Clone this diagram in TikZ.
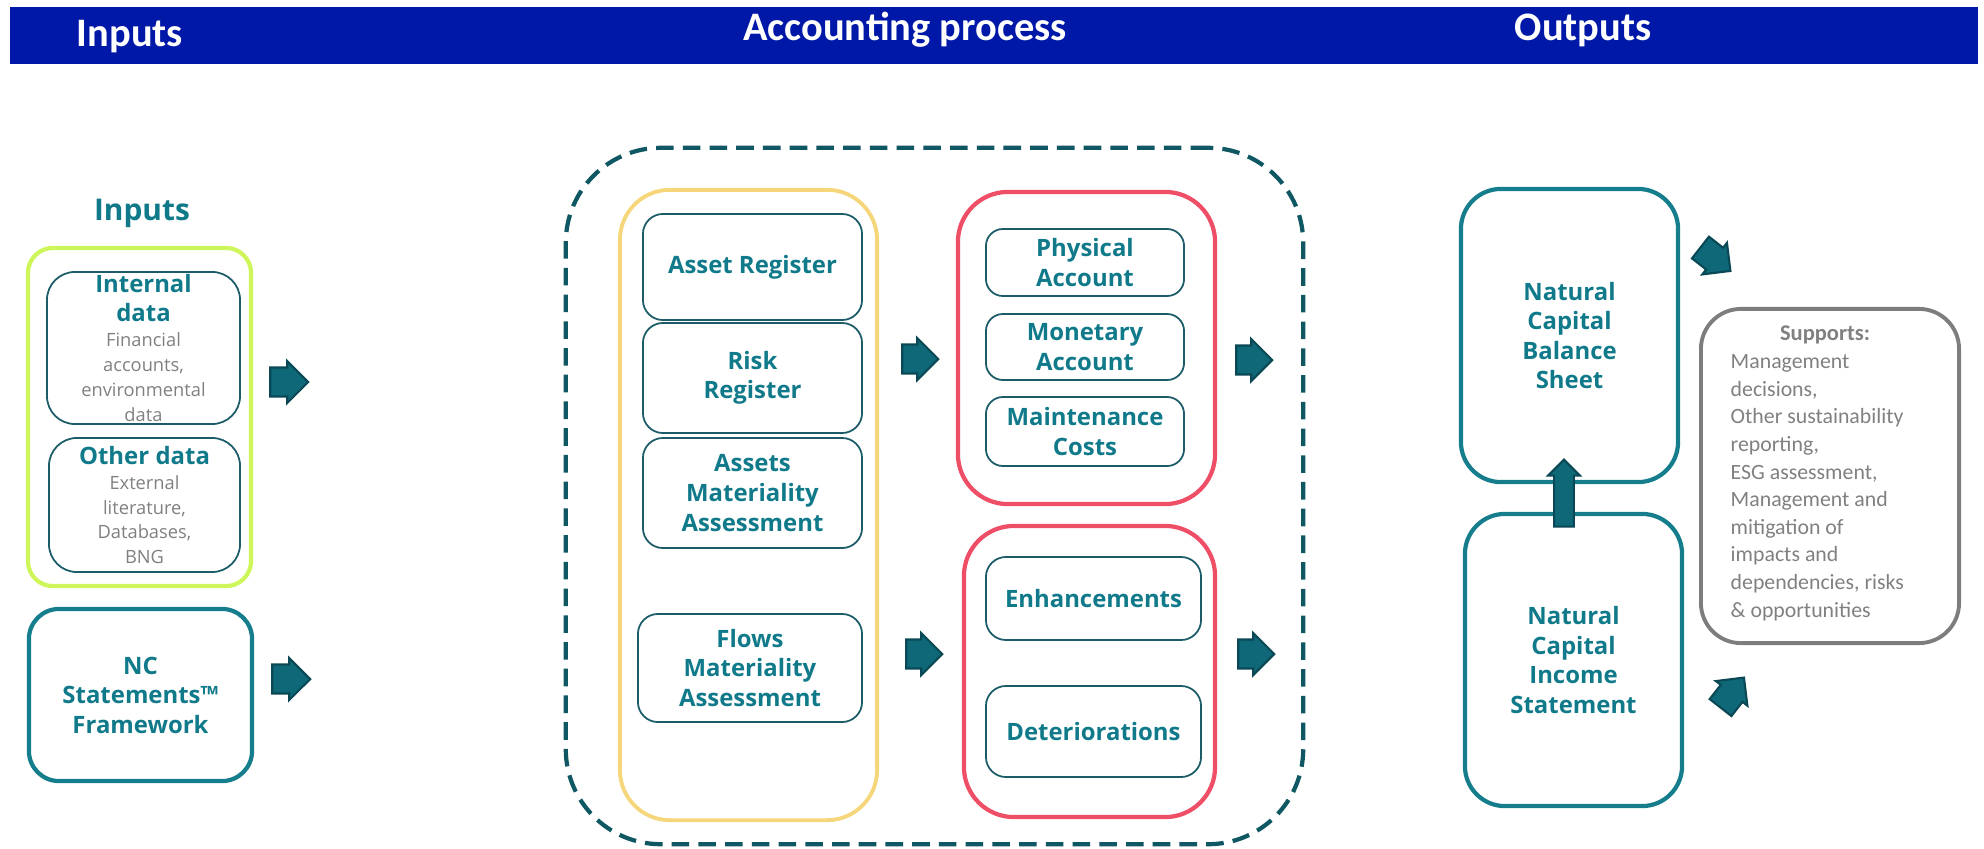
\documentclass[tikz,border=0pt]{standalone}
\usepackage{fontspec}
\setmainfont{Open Sans}
\newfontfamily\calfont{Carlito}
\usetikzlibrary{shapes.arrows}
\definecolor{hdr}{RGB}{0,24,168}
\definecolor{tealtxt}{RGB}{16,122,138}
\definecolor{thinline}{RGB}{28,92,104}
\definecolor{tealline}{RGB}{22,125,141}
\definecolor{limeg}{RGB}{206,246,90}
\definecolor{yell}{RGB}{245,214,122}
\definecolor{redl}{RGB}{238,78,102}
\definecolor{grayl}{RGB}{125,125,125}
\definecolor{graytxt}{RGB}{128,128,128}
\definecolor{arrfill}{RGB}{14,104,120}
\definecolor{arrdraw}{RGB}{9,72,84}
\definecolor{dashc}{RGB}{15,88,99}
\tikzset{
  hdrtxt/.style={font=\calfont\bfseries\fontsize{11.5}{13}\selectfont, text=white, anchor=base},
  tb/.style={font=\bfseries\fontsize{6.8}{8.4}\selectfont, text=tealtxt, align=center},
  frm/.style={rounded corners=#1, inner sep=0pt},
  thinbox/.style={frm=#1, draw=thinline, line width=0.5pt},
  thickbox/.style={frm=#1, draw=tealline, line width=1.2pt},
  blockarr/.style={single arrow, draw=arrdraw, fill=arrfill, line width=0.6pt,
    inner xsep=0pt, inner ysep=0.1cm, minimum height=0.38cm, minimum width=0.42cm,
    single arrow head extend=0.05cm, single arrow tip angle=90},
}
\begin{document}
\begin{tikzpicture}[x=0.01cm, y=-0.01cm]
\useasboundingbox (0,0) rectangle (1984,848);
% header
\fill[hdr] (10,7) rectangle (1978,64);
\node[hdrtxt] (hIn) at (130,46) {Inputs};
\node[hdrtxt] (hAcc) at (905,40) {Accounting process};
\node[hdrtxt] (hOut) at (1583,40) {Outputs};

% inputs
\node[font=\bfseries\fontsize{8.5}{10}\selectfont, text=tealtxt] (inTitle) at (142,213) {Inputs};
\node[frm=0.25cm, draw=limeg, line width=1.2pt, minimum width=2.23cm, minimum height=3.38cm] (green) at (139.5,417) {};
\node[thinbox=0.28cm, minimum width=1.93cm, minimum height=1.52cm, text width=1.93cm, align=center] (internal) at (143.5,348)
  {{\bfseries\fontsize{6.8}{8.4}\selectfont\color{tealtxt}Internal\\data\par}%
   {\fontsize{5.2}{7.1}\selectfont\color{graytxt}Financial\\accounts,\\environmental\\data\par}};
\node[thinbox=0.28cm, minimum width=1.91cm, minimum height=1.34cm, text width=1.91cm, align=center] (other) at (144.5,505)
  {{\bfseries\fontsize{6.8}{8.4}\selectfont\color{tealtxt}Other\kern0.27em data\par}%
   {\fontsize{5.2}{7.1}\selectfont\color{graytxt}External\\literature,\\Databases,\\BNG\par}};
\node[thickbox=0.30cm, minimum width=2.23cm, minimum height=1.72cm, tb] (nc) at (140.5,695) {NC\\Statements™\\Framework};
\node[blockarr] (a1) at (282,382) {};
\node[blockarr] (a2) at (284,679) {};

% accounting process
\node[frm=0.95cm, draw=dashc, line width=1.2pt, dash pattern=on 5pt off 2.6pt, minimum width=7.37cm, minimum height=6.96cm] (dash) at (934.5,496) {};
\node[frm=0.5cm, draw=yell, line width=1.1pt, minimum width=2.57cm, minimum height=6.30cm] (yellow) at (748.5,505) {};
\node[thinbox=0.2cm, minimum width=2.19cm, minimum height=1.06cm, tb] (asset) at (752.5,267) {Asset Register};
\node[thinbox=0.2cm, minimum width=2.19cm, minimum height=1.10cm, tb] (risk) at (752.5,378) {Risk\\Register};
\node[thinbox=0.2cm, minimum width=2.19cm, minimum height=1.10cm, tb] (amat) at (752.5,493) {Assets\\Materiality\\Assessment};
\node[thinbox=0.2cm, minimum width=2.24cm, minimum height=1.08cm, tb] (fmat) at (750,668) {Flows\\Materiality\\Assessment};
\node[frm=0.5cm, draw=redl, line width=1.2pt, minimum width=2.57cm, minimum height=3.12cm] (redtop) at (1086.5,348) {};
\node[thinbox=0.17cm, minimum width=1.98cm, minimum height=0.67cm, tb] (phys) at (1085,262.5) {Physical\\Account};
\node[thinbox=0.17cm, minimum width=1.98cm, minimum height=0.66cm, tb] (mon) at (1085,347) {Monetary\\Account};
\node[thinbox=0.17cm, minimum width=1.98cm, minimum height=0.69cm, tb] (maint) at (1085,431.5) {Maintenance\\Costs};
\node[frm=0.5cm, draw=redl, line width=1.2pt, minimum width=2.51cm, minimum height=2.91cm] (redbot) at (1089.5,671.5) {};
\node[thinbox=0.2cm, minimum width=2.15cm, minimum height=0.83cm, tb] (enh) at (1093.5,598.5) {Enhancements};
\node[thinbox=0.2cm, minimum width=2.15cm, minimum height=0.91cm, tb] (det) at (1093.5,731.5) {Deteriorations};
\node[blockarr, minimum width=0.42cm, minimum height=0.36cm] (m1) at (913,359) {};
\node[blockarr, minimum width=0.42cm, minimum height=0.36cm] (m2) at (917,654) {};
\node[blockarr, minimum width=0.42cm, minimum height=0.36cm] (r1) at (1247,360) {};
\node[blockarr, minimum width=0.42cm, minimum height=0.36cm] (r2) at (1249,654) {};

% outputs
\node[thickbox=0.4cm, minimum width=2.17cm, minimum height=2.93cm, tb] (bal) at (1569.5,335.5) {Natural\\Capital\\Balance\\Sheet};
\node[thickbox=0.4cm, minimum width=2.17cm, minimum height=2.92cm, tb] (inc) at (1573.5,660) {Natural\\Capital\\Income\\Statement};
\node[blockarr, inner ysep=0.07cm, minimum width=0.32cm, minimum height=0.67cm, rotate=90] (up) at (1564,498) {};
\node[blockarr, minimum width=0.40cm, minimum height=0.38cm, rotate=-38] (d1) at (1710,255) {};
\node[blockarr, minimum width=0.40cm, minimum height=0.38cm, rotate=52] (d2) at (1728,698) {};
\node[frm=0.4cm, draw=grayl, line width=1.1pt, minimum width=2.58cm, minimum height=3.34cm] (sup) at (1830,476) {};
\node[font=\calfont\bfseries\fontsize{6.4}{7.85}\selectfont, text=graytxt] (supT) at (1825,335) {Supports:};
\node[font=\calfont\fontsize{6.2}{7.85}\selectfont, text=graytxt, align=left, anchor=north west, inner sep=0pt] (supB) at (1730,354)
  {Management\\decisions,\\Other sustainability\\reporting,\\ESG assessment,\\Management and\\mitigation of\\impacts and\\dependencies, risks\\\& opportunities};
\end{tikzpicture}
\end{document}
